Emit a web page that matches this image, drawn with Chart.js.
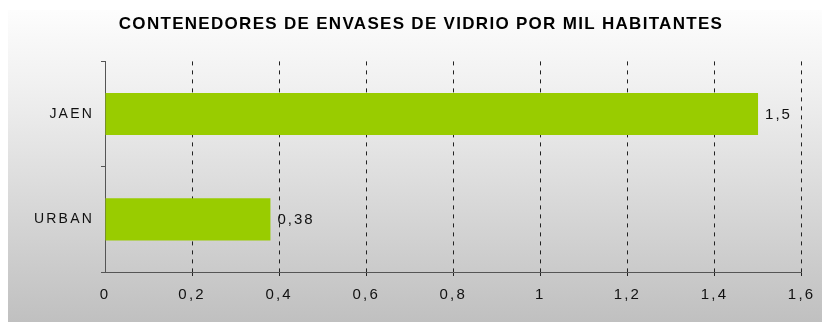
<!DOCTYPE html>
<html>
<head>
<meta charset="utf-8">
<script src="https://cdn.jsdelivr.net/npm/chart.js@4/dist/chart.umd.min.js"></script>
<style>
  html, body { margin: 0; padding: 0; background: #fff; }
  #wrap { width: 822px; height: 322px; }
</style>
</head>
<body>
<div id="wrap"><canvas id="chart"></canvas></div>
<script>
// Contenedores de vidrio por cada mil habitantes
const categories = ['JAEN', 'URBAN'];
const values = [1.5, 0.38];
const tickValues = [0, 0.2, 0.4, 0.6, 0.8, 1, 1.2, 1.4, 1.6];

const FONT = '"Liberation Sans", Arial, sans-serif';
const fmt = v => String(v).replace('.', ',');

// grey gradient panel behind the whole chart, plus wide letter spacing for all text
const panelBg = {
  id: 'panelBg',
  beforeDraw(chart) {
    const c = chart.ctx;
    const g = c.createLinearGradient(0, 10, 0, chart.height);
    g.addColorStop(0, '#fdfdfd');
    g.addColorStop(0.25, '#f0f0f0');
    g.addColorStop(1, '#c0c0c0');
    c.save();
    c.fillStyle = g;
    c.fillRect(8, 10, chart.width - 8, chart.height - 10);
    c.restore();
    c.letterSpacing = '2.2px';
    // the title gets a tighter spacing and sits a bit to the right
    const tb = chart.titleBlock;
    if (tb && !tb._wrapped) {
      const orig = tb.draw;
      tb.draw = function () {
        c.save();
        c.letterSpacing = '1.3px';
        c.translate(20, 0);
        orig.apply(this, arguments);
        c.restore();
      };
      tb._wrapped = true;
    }
  }
};

// value labels at the end of each bar
const barLabels = {
  id: 'barLabels',
  afterDatasetsDraw(chart) {
    const c = chart.ctx;
    const meta = chart.getDatasetMeta(0);
    c.save();
    c.letterSpacing = '2px';
    c.font = '15px ' + FONT;
    c.fillStyle = '#111';
    c.textBaseline = 'middle';
    meta.data.forEach((bar, i) => {
      c.fillText(fmt(values[i]), bar.x + 7, bar.y + 1);
    });
    c.restore();
  }
};

new Chart(document.getElementById('chart'), {
  type: 'bar',
  data: {
    labels: categories,
    datasets: [{
      data: values,
      backgroundColor: '#99cc00',
      borderWidth: 0,
      barPercentage: 0.4,
      categoryPercentage: 1
    }]
  },
  options: {
    indexAxis: 'y',
    responsive: true,
    maintainAspectRatio: false,
    animation: false,
    layout: { padding: { left: 0, right: 20, top: 0, bottom: 8 } },
    plugins: {
      legend: { display: false },
      tooltip: { enabled: false },
      title: {
        display: true,
        text: 'CONTENEDORES DE ENVASES DE VIDRIO POR MIL HABITANTES',
        color: '#000',
        font: { family: FONT, size: 17, weight: 'bold' },
        padding: { top: 14, bottom: 27 }
      }
    },
    scales: {
      x: {
        min: 0,
        max: 1.6,
        afterBuildTicks(axis) {
          axis.ticks = tickValues.map(v => ({ value: v }));
        },
        ticks: {
          color: '#111',
          font: { family: FONT, size: 15 },
          padding: 10,
          callback: v => fmt(v)
        },
        grid: {
          color: ctx => ctx.index === 0 ? 'rgba(0,0,0,0)' : '#222',
          lineWidth: 1,
          tickLength: 4,
          drawTicks: true
        },
        border: { display: true, color: '#555', dash: [4, 5], width: 1 }
      },
      y: {
        offset: true,
        ticks: {
          color: '#111',
          font: { family: FONT, size: 14 },
          padding: 7
        },
        grid: {
          offset: true,
          drawOnChartArea: false,
          color: '#555',
          tickLength: 4
        },
        border: { display: true, color: '#555', width: 1 },
        afterFit(axis) { axis.width = 105; }
      }
    }
  },
  plugins: [panelBg, barLabels]
});
</script>
</body>
</html>
